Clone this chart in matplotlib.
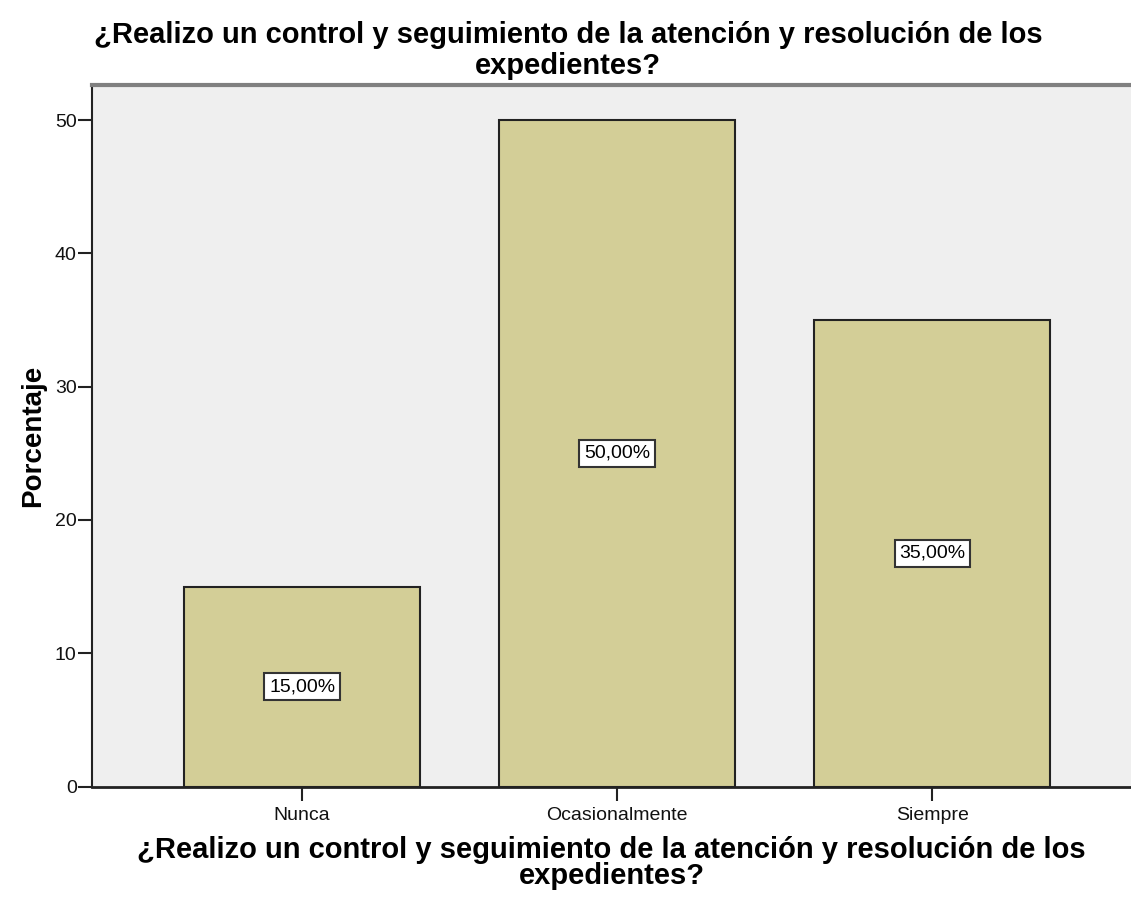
import matplotlib.pyplot as plt

plt.rcParams['font.family'] = ['Liberation Sans', 'DejaVu Sans']

categories = ['Nunca', 'Ocasionalmente', 'Siempre']
percentages = [15.0, 50.0, 35.0]
labels = ['15,00%', '50,00%', '35,00%']
title = '¿Realizo un control y seguimiento de la atención y resolución de los\nexpedientes?'

fig = plt.figure(figsize=(11.31, 8.98), dpi=100)
ax = fig.add_axes([0.0813, 0.124, 0.9187, 0.7817])
ax.set_facecolor('#efefef')

x = range(len(categories))
ax.bar(x, percentages, width=0.749, color='#d3ce97', edgecolor='#222222', linewidth=1.5, zorder=2)

for xi, v, lab in zip(x, percentages, labels):
    ax.text(xi, v / 2, lab, ha='center', va='center', fontsize=14, zorder=3,
            bbox=dict(boxstyle='square,pad=0.25', facecolor='white', edgecolor='#333333', linewidth=1.5))

ax.set_xlim(-0.667, 2.63)
ax.set_ylim(0, 52.65)
ax.set_xticks(list(x))
ax.set_xticklabels(categories)
ax.set_yticks([0, 10, 20, 30, 40, 50])
ax.tick_params(axis='both', length=10, width=1.5, color='#222222', labelsize=14, labelcolor='#111111')
ax.tick_params(axis='y', pad=1)
ax.tick_params(axis='x', pad=5)

ax.spines['right'].set_visible(False)
ax.spines['top'].set_color('#808080')
ax.spines['top'].set_linewidth(3)
ax.spines['left'].set_linewidth(1.5)
ax.spines['left'].set_color('#222222')
ax.spines['bottom'].set_linewidth(2)
ax.spines['bottom'].set_color('#222222')

ax.set_ylabel('Porcentaje', fontsize=20, fontweight='bold', labelpad=6)
ax.set_xlabel(title, fontsize=21, fontweight='bold', linespacing=0.95, labelpad=8)
ax.set_title(title, fontsize=21, fontweight='bold', linespacing=1.1, pad=8, x=0.458)

fig.savefig('out.png', dpi=100)
